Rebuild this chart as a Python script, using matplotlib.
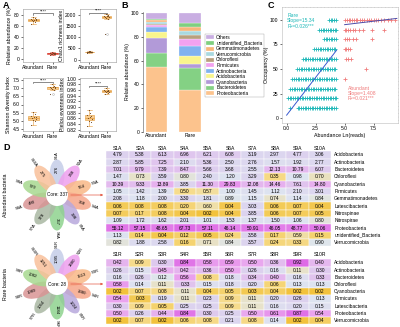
import matplotlib.pyplot as plt
import numpy as np
from matplotlib.colors import LinearSegmentedColormap
from matplotlib.patches import Circle, Ellipse, Rectangle

plt.rcParams.update({
    "font.family": ["Liberation Sans", "DejaVu Sans"],
    "font.size": 4,
    "axes.linewidth": 0.4,
    "axes.edgecolor": "#555555",
    "xtick.major.width": 0.4,
    "ytick.major.width": 0.4,
    "xtick.major.size": 1.5,
    "ytick.major.size": 1.5,
    "xtick.major.pad": 1,
    "ytick.major.pad": 1,
    "xtick.labelsize": 3.6,
    "ytick.labelsize": 3.6,
    "axes.labelsize": 3.8,
    "axes.labelpad": 1,
})

# ---------------- data ----------------
groups = ["Abundant", "Rare"]

# A: alpha diversity (10 samples per group)
relab_abundant = [63.5, 66.8, 68.2, 69.5, 70.3, 71.0, 71.8, 72.5, 74.0, 76.2]
relab_rare = [8.2, 8.9, 9.4, 9.8, 10.1, 10.4, 10.8, 11.3, 11.9, 12.6]
chao1_abundant = [318, 330, 338, 345, 350, 353, 358, 362, 370, 381]
chao1_rare = [1150, 1820, 1860, 1885, 1905, 1920, 1940, 1955, 1985, 2010]
shannon_abundant = [4.75, 4.95, 5.05, 5.10, 5.15, 5.20, 5.25, 5.30, 5.40, 5.55]
shannon_rare = [6.65, 6.90, 6.98, 7.02, 7.05, 7.08, 7.10, 7.12, 7.18, 7.25]
pielou_abundant = [0.832, 0.846, 0.852, 0.857, 0.861, 0.864, 0.868, 0.872, 0.880, 0.891]
pielou_rare = [0.947, 0.951, 0.953, 0.955, 0.956, 0.957, 0.958, 0.960, 0.962, 0.966]

# B: composition (%)
stack_phyla = ["Proteobacteria", "Bacteroidetes", "Cyanobacteria", "Acidobacteria",
               "Actinobacteria", "Firmicutes", "Chloroflexi", "Verrucomicrobia",
               "Gemmatimonadetes", "unidentified_Bacteria", "Others"]
stack_abundant = [54.5, 12.0, 13.0, 5.0, 4.0, 1.3, 1.5, 1.2, 1.5, 1.5, 4.5]
stack_rare = [35.0, 19.0, 3.0, 7.0, 8.0, 6.0, 4.0, 3.0, 3.0, 4.0, 8.0]
stack_colors = ["#fcc38d", "#84d184", "#b29ad8", "#f9f58c", "#80b2ef", "#f2a2f0",
                "#b8a07e", "#a9d9e0", "#f8b67a", "#7fcf7f", "#c9aee2"]

# C: occupancy vs abundance
rare_levels = [10, 20, 30, 40, 50, 60, 70, 80, 90, 100]
rare_x = [
    [0.32, 0.95, 1.1, 1.25, 1.4, 1.55, 1.7, 1.85, 2.0, 2.15, 2.3, 2.45, 2.6, 2.75, 2.9, 3.05, 3.2, 3.35, 3.5, 3.65, 3.8, 3.95, 4.1, 4.25],
    [0.12, 0.25, 0.4, 0.55, 0.7, 0.85, 1.0, 1.15, 1.3, 1.45, 1.6, 1.75, 1.9, 2.05, 2.2, 2.35, 2.5, 2.65, 2.8, 2.95, 3.1, 3.25, 3.4, 3.55, 3.7, 3.85, 4.0, 4.15, 4.25],
    [0.3, 0.45, 0.6, 0.75, 0.9, 1.05, 1.2, 1.35, 1.5, 1.65, 1.8, 1.95, 2.1, 2.25, 2.4, 2.55, 2.7, 2.85, 3.0, 3.15, 3.3, 3.45, 3.6, 3.75, 3.9, 4.05, 4.2],
    [0.5, 0.65, 0.8, 0.95, 1.1, 1.25, 1.4, 1.55, 1.7, 1.85, 2.0, 2.15, 2.3, 2.45, 2.6, 2.75, 2.9, 3.05, 3.2, 3.35, 3.5, 3.65, 3.8, 3.95, 4.1, 4.25],
    [0.9, 1.05, 1.2, 1.35, 1.5, 1.65, 1.8, 1.95, 2.1, 2.25, 2.4, 2.55, 2.7, 2.85, 3.0, 3.15, 3.3, 3.45, 3.6, 3.75, 3.9, 4.05, 4.2],
    [1.4, 1.55, 1.7, 1.85, 2.0, 2.15, 2.3, 2.45, 2.6, 2.75, 2.9, 3.05, 3.2, 3.35, 3.5, 3.65, 3.8, 3.95, 4.1, 4.25],
    [2.4, 2.55, 2.7, 2.85, 3.0, 3.15, 3.3, 3.45, 3.6, 3.75, 3.9, 4.05, 4.2],
    [3.2, 3.35, 3.5, 3.65, 3.8, 3.95, 4.1, 4.25],
    [2.8, 2.95, 3.1, 3.25, 3.4, 3.55, 3.7, 3.85, 4.0, 4.15, 4.25],
    [3.65, 3.8, 3.95, 4.1, 4.25],
]
abundant_levels = [40, 50, 60, 70, 80, 90, 100]
abundant_x = [
    [5.05],
    [6.8],
    [5.1, 5.3, 5.55],
    [5.0, 5.15, 5.3, 5.5],
    [5.0, 5.2, 5.4, 5.7, 6.0, 7.4],
    [5.0, 5.15, 5.3, 5.5, 5.7, 5.9, 6.2, 6.6, 7.4, 8.4],
    [5.0, 5.2, 5.35, 5.5, 5.65, 5.8, 5.95, 6.1, 6.3, 6.5, 6.7, 6.9, 7.1, 7.3, 7.5,
     7.7, 7.9, 8.1, 8.4, 8.7, 9.0, 9.3],
]
rare_fit = (15.34, 3.0)
abundant_fit = (1.408, 88.0)

# D: flowers
abundant_samples = ["S1A", "S2A", "S3A", "S4A", "S5A", "S6A", "S7A", "S8A", "S9A", "S10A"]
rare_samples = ["S1R", "S2R", "S3R", "S4R", "S5R", "S6R", "S7R", "S8R", "S9R", "S10R"]
abundant_unique = [276, 248, 564, 368, 398, 357, 378, 490, 570, 275]
rare_unique = [1095, 1480, 1513, 1380, 1224, 1184, 1054, 1089, 1082, 1251]
abundant_core = 337
rare_core = 28
petal_colors = ["#c5cde8", "#ee9fee", "#f9b886", "#f6a68a", "#b8a8dc",
                "#8ed38e", "#a9b8a3", "#d99494", "#a7d98f", "#f8c09a"]

# D: tables (one list per sample column)
abundant_phyla = ["Acidobacteria", "Actinobacteria", "Bacteroidetes", "Chloroflexi",
                  "Cyanobacteria", "Firmicutes", "Gemmatimonadetes", "Latescibacteria",
                  "Nitrospinae", "Nitrospirae", "Proteobacteria", "unidentified_Bacteria",
                  "Verrucomicrobia"]
abundant_table = [
    [4.79, 2.87, 7.01, 1.47, 10.39, 1.05, 2.08, 0.06, 0.07, 1.09, 55.12, 1.13, 0.82],
    [5.38, 5.85, 9.79, 0.73, 9.33, 1.42, 1.18, 0.08, 0.17, 1.72, 57.15, 0.14, 1.88],
    [6.13, 7.25, 7.39, 3.59, 13.89, 1.39, 2.00, 0.08, 0.08, 1.62, 48.65, 0.04, 2.58],
    [6.96, 2.10, 8.47, 0.80, 3.85, 0.50, 3.30, 0.20, 0.04, 2.01, 67.73, 0.12, 0.16],
    [6.21, 5.36, 5.66, 2.40, 11.30, 0.57, 1.81, 0.60, 0.02, 1.01, 57.11, 0.05, 0.71],
    [6.08, 2.50, 3.68, 1.20, 29.83, 1.00, 0.89, 0.04, 0.04, 1.53, 46.14, 0.24, 0.84],
    [3.19, 2.76, 2.55, 3.29, 12.08, 1.45, 1.15, 3.03, 3.85, 1.37, 50.91, 3.58, 3.57],
    [2.97, 1.57, 12.13, 0.35, 14.46, 1.12, 0.74, 0.06, 0.06, 1.50, 46.05, 0.17, 0.24],
    [4.77, 1.92, 10.79, 0.98, 7.61, 2.10, 1.14, 0.07, 0.07, 1.06, 48.77, 0.59, 0.33],
    [3.06, 2.77, 6.07, 0.70, 14.80, 3.01, 0.84, 0.04, 0.05, 0.80, 50.06, 0.15, 0.90],
]
rare_phyla = ["Acidobacteria", "Actinobacteria", "Bacteroidetes", "Chloroflexi",
              "Cyanobacteria", "Firmicutes", "Latescibacteria", "Proteobacteria",
              "Verrucomicrobia"]
rare_table = [
    [0.42, 0.26, 0.16, 0.58, 0.02, 0.54, 0.30, 0.50, 0.02],
    [0.09, 0.15, 0.26, 0.14, 0.07, 0.03, 0.09, 0.26, 0.07],
    [0.30, 0.45, 0.12, 0.11, 0.08, 0.19, 0.05, 0.44, 0.02],
    [0.84, 0.42, 0.56, 0.33, 0.11, 0.11, 0.25, 0.84, 0.06],
    [0.58, 0.36, 0.08, 0.15, 0.04, 0.23, 0.25, 0.30, 0.08],
    [0.59, 0.50, 0.18, 0.18, 0.05, 0.09, 0.09, 0.25, 0.21],
    [0.50, 0.26, 0.34, 0.20, 0.03, 0.11, 0.11, 0.50, 0.08],
    [0.36, 0.16, 0.40, 0.06, 0.04, 0.20, 0.16, 0.61, 0.14],
    [0.92, 0.11, 0.16, 0.13, 0.02, 0.26, 0.20, 0.87, 0.02],
    [0.40, 0.30, 0.33, 0.13, 0.02, 0.13, 0.15, 0.54, 0.04],
]

# ---------------- layout helpers ----------------
W, H = 400, 327
JITTER = [-0.12, 0.08, -0.05, 0.14, -0.10, 0.03, 0.11, -0.14, 0.06, -0.02]
BOX_FACE, BOX_EDGE = "#f9cd8f", "#e39a3b"


def rect(x0, y0, x1, y1):
    return [x0 / W, 1 - y1 / H, (x1 - x0) / W, (y1 - y0) / H]


def draw_box(ax, vals_a, vals_r, ylim, ticks, ylabel, bracket_y, tick_fmt,
             rare_face=BOX_FACE, rare_edge=BOX_EDGE):
    bp = ax.boxplot([vals_a, vals_r], positions=[0, 1], widths=0.55, patch_artist=True,
                    flierprops=dict(marker="o", markersize=1.3, markerfacecolor="none",
                                    markeredgecolor="#999999", markeredgewidth=0.3))
    faces = [BOX_FACE, rare_face]
    edges = [BOX_EDGE, rare_edge]
    for i in range(2):
        bp["boxes"][i].set_facecolor(faces[i])
        bp["boxes"][i].set_edgecolor(edges[i])
        bp["boxes"][i].set_linewidth(0.4)
        bp["medians"][i].set_color(edges[i])
        bp["medians"][i].set_linewidth(0.5)
        for ln in bp["whiskers"][2 * i:2 * i + 2] + bp["caps"][2 * i:2 * i + 2]:
            ln.set_color(edges[i])
            ln.set_linewidth(0.4)
    for i, vals in enumerate([vals_a, vals_r]):
        ax.scatter(i + np.array(JITTER[:len(vals)]), vals, s=0.6, c="#6b4420",
                   lw=0, zorder=3)
    h = (ylim[1] - ylim[0]) * 0.02
    ax.plot([0, 0, 1, 1], [bracket_y - h, bracket_y, bracket_y, bracket_y - h],
            lw=0.4, c="#333333")
    ax.text(0.5, bracket_y, "****", ha="center", va="bottom", fontsize=3.2)
    ax.set_xlim(-0.55, 1.55)
    ax.set_ylim(*ylim)
    ax.set_yticks(ticks)
    ax.set_yticklabels([tick_fmt.format(t) for t in ticks])
    ax.set_xticks([0, 1])
    ax.set_xticklabels(groups)
    ax.set_ylabel(ylabel)
    for sp in ax.spines.values():
        sp.set_color("#999999")


fig = plt.figure(figsize=(W / 100, H / 100), dpi=100)

# ---------------- Panel A ----------------
ax1 = fig.add_axes(rect(23, 9, 63, 62))
draw_box(ax1, relab_abundant, relab_rare, (-5, 90), [0, 20, 40, 60, 80],
         "Relative abundance (%)", 82, "{:g}", rare_face="#ef6a5c", rare_edge="#d8392c")
ax2 = fig.add_axes(rect(80, 9, 116, 62))
draw_box(ax2, chao1_abundant, chao1_rare, (-100, 2250), [0, 500, 1000, 1500, 2000],
         "Chao1 richness index", 2080, "{:g}")
ax3 = fig.add_axes(rect(23, 78, 63, 131))
draw_box(ax3, shannon_abundant, shannon_rare, (4.35, 7.65),
         [4.5, 5.0, 5.5, 6.0, 6.5, 7.0, 7.5], "Shannon diversity index", 7.38, "{:.1f}")
ax4 = fig.add_axes(rect(80, 78, 116, 131))
draw_box(ax4, pielou_abundant, pielou_rare, (0.815, 1.003),
         [0.82, 0.84, 0.86, 0.88, 0.90, 0.92, 0.94, 0.96, 0.98, 1.00],
         "Pielou evenness index", 0.976, "{:.2f}")

# ---------------- Panel B ----------------
axb = fig.add_axes(rect(143, 12, 205, 132))
bottom_a, bottom_r = 0.0, 0.0
handles = []
for name, va, vr, col in zip(stack_phyla, stack_abundant, stack_rare, stack_colors):
    hnd = axb.bar([0, 1], [va, vr], bottom=[bottom_a, bottom_r], width=0.65,
                  color=col, edgecolor="white", linewidth=0.2, label=name)
    handles.append(hnd)
    bottom_a += va
    bottom_r += vr
axb.set_xlim(-0.4, 1.45)
axb.set_ylim(0, 101)
axb.set_yticks([0, 20, 40, 60, 80, 100])
axb.set_xticks([0, 1])
axb.set_xticklabels(groups)
axb.tick_params(axis="x", length=0)
axb.set_ylabel("Relative abundance (%)")
for s in ["top", "right", "bottom"]:
    axb.spines[s].set_visible(False)
leg = axb.legend(handles[::-1], stack_phyla[::-1], loc="upper left",
                 bbox_to_anchor=(1.0, 0.82), fontsize=3.5, frameon=True,
                 handlelength=1.6, handleheight=0.9, labelspacing=0.12,
                 borderpad=0.3, handletextpad=0.4, borderaxespad=0)
leg.get_frame().set_linewidth(0.3)
leg.get_frame().set_edgecolor("#888888")
leg.get_frame().set_boxstyle("square", pad=0)

# ---------------- Panel C ----------------
axc = fig.add_axes(rect(282, 7, 398, 123))
for lvl, xs in zip(rare_levels, rare_x):
    axc.scatter(xs, [lvl] * len(xs), marker="+", s=8, c="#1fb8b8", lw=0.6, zorder=2)
for lvl, xs in zip(abundant_levels, abundant_x):
    axc.scatter(xs, [lvl] * len(xs), marker="+", s=8, c="#f07b7b", lw=0.6, zorder=2)
xr = np.array([0.0, 4.3])
axc.plot(xr, rare_fit[0] * xr + rare_fit[1], c="#3a5ad0", lw=0.7, zorder=3)
xa = np.array([5.0, 9.5])
axc.plot(xa, abundant_fit[0] * xa + abundant_fit[1], c="#4b4ba8", lw=0.7, zorder=3)
axc.text(0.05, 107, "Rare\nSlope=15.34\nR²=0.026***", color="#1fb8b8", fontsize=3.6,
         va="top", ha="left", linespacing=1.1)
axc.text(5.3, 33, "Abundant\nSlope=1.408\nR²=0.021***", color="#f07b7b", fontsize=3.6,
         va="top", ha="left", linespacing=1.1)
axc.set_xlim(-0.4, 9.6)
axc.set_ylim(-5, 113)
axc.set_xticks([0, 2.5, 5.0, 7.5])
axc.set_xticklabels(["0.0", "2.5", "5.0", "7.5"])
axc.set_yticks([0, 25, 50, 75, 100])
axc.set_xlabel("Abundance Ln(reads)")
axc.set_ylabel("Occupancy (%)")
for s in ["top", "right"]:
    axc.spines[s].set_linestyle((0, (1, 1.5)))
    axc.spines[s].set_color("#aaaaaa")
for s in ["left", "bottom"]:
    axc.spines[s].set_color("#bbbbbb")

# ---------------- Panel D (pixel overlay) ----------------
axd = fig.add_axes([0, 0, 1, 1], zorder=-1)
axd.set_xlim(0, W)
axd.set_ylim(H, 0)
axd.axis("off")


def draw_flower(cx, cy, names, counts, core):
    for k, (nm, cnt, col) in enumerate(zip(names, counts, petal_colors)):
        deg = 90 - 36 * k
        th = np.deg2rad(deg)
        px, py = cx + 20 * np.cos(th), cy - 20 * np.sin(th)
        axd.add_patch(Ellipse((px, py), 31, 15, angle=-deg, facecolor=col,
                              edgecolor="none", alpha=0.85))
        if abs(deg - 90) < 1e-6:
            rot = 90
        elif abs(deg + 90) < 1e-6:
            rot = -90
        else:
            rot = deg if np.cos(th) > 0 else deg + 180
        tx, ty = cx + 26 * np.cos(th), cy - 26 * np.sin(th)
        axd.text(tx, ty, str(cnt), fontsize=3.1, ha="center", va="center",
                 rotation=rot, rotation_mode="anchor")
        lx, ly = cx + 40 * np.cos(th), cy - 40 * np.sin(th)
        axd.text(lx, ly, nm, fontsize=3.0, ha="center", va="center",
                 rotation=rot, rotation_mode="anchor")
    axd.add_patch(Circle((cx, cy), 11, facecolor="white", edgecolor="none", zorder=3))
    axd.text(cx, cy, f"Core: {core}", fontsize=3.3, ha="center", va="center", zorder=4)
    axd.annotate("", xy=(cx + 49, cy), xytext=(cx + 11, cy),
                 arrowprops=dict(arrowstyle="-|>", color="#e55b45", lw=0.5,
                                 mutation_scale=3), zorder=4)


draw_flower(57, 195, abundant_samples, abundant_unique, abundant_core)
draw_flower(57, 284, rare_samples, rare_unique, rare_core)
axd.text(6, 195, "Abundant bacteria", rotation=90, fontsize=3.8, ha="center", va="center")
axd.text(6, 284, "Rare bacteria", rotation=90, fontsize=3.8, ha="center", va="center")

table_cmap = LinearSegmentedColormap.from_list(
    "tbl", [(0, "#f2c23c"), (0.40, "#f6dc8e"), (0.47, "#dde5f0"), (0.68, "#dcd0ee"),
            (0.86, "#eaa4ee"), (1.0, "#de6be6")])


def draw_table(samples, phyla, table, y_header, y0, dy):
    vals = np.array(table).T  # rows = phyla
    lo, hi = np.log10(vals.min()), np.log10(vals.max())
    x0, dx = 117.5, 22.5
    for j, s in enumerate(samples):
        axd.text(x0 + j * dx, y_header, s, fontsize=3.6, ha="center", va="center")
    for i, ph in enumerate(phyla):
        y = y0 + i * dy
        for j in range(len(samples)):
            v = vals[i, j]
            c = table_cmap((np.log10(v) - lo) / (hi - lo))
            axd.add_patch(Rectangle((x0 + j * dx - dx / 2, y - dy / 2), dx, dy,
                                    facecolor=c, edgecolor="white", lw=0.3))
            axd.text(x0 + j * dx, y, f"{v:.2f}", fontsize=3.5, ha="center", va="center")
        axd.text(x0 + (len(samples) - 0.5) * dx + 3, y, ph, fontsize=3.5,
                 ha="left", va="center")


draw_table(abundant_samples, abundant_phyla, abundant_table, 148, 155, 7.3)
draw_table(rare_samples, rare_phyla, rare_table, 255, 263, 7.2)

# panel letters
for lab, (x, y) in zip("ABCD", [(3, 5), (121, 5), (268, 5), (3, 147)]):
    axd.text(x, y, lab, fontsize=6.5, fontweight="bold", ha="left", va="center")

fig.savefig("out.png", dpi=100)
